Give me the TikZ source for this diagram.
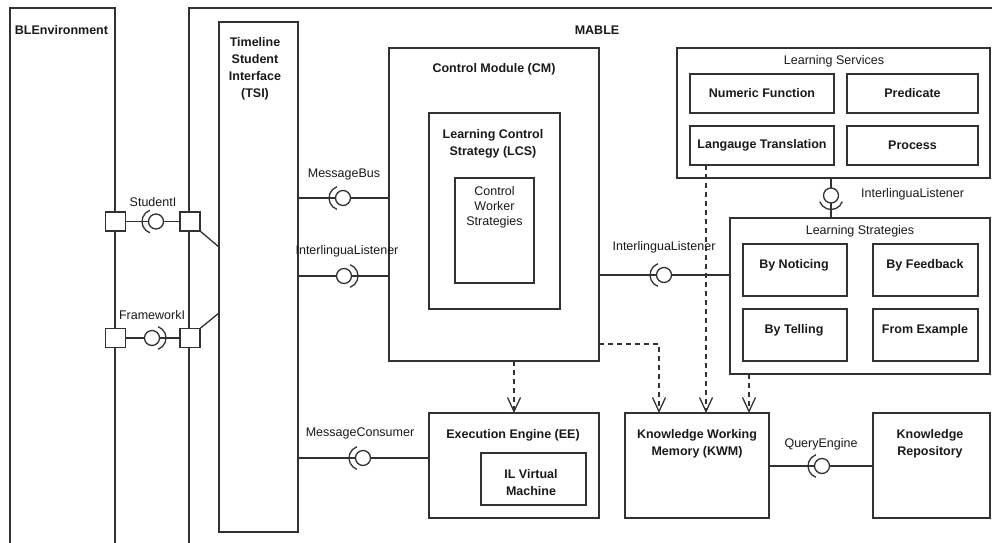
\documentclass[tikz,border=0pt]{standalone}
\usepackage{fontspec}
\setmainfont{Liberation Sans}
\usetikzlibrary{arrows.meta}
\definecolor{lc}{RGB}{50,50,50}
\definecolor{tc}{RGB}{25,25,25}
\begin{document}
\begin{tikzpicture}[x=1pt,y=-1pt,
  box/.style={rectangle,draw=lc,line width=1.3pt,inner sep=0pt,outer sep=0pt},
  port/.style={box,fill=white,minimum width=20pt,minimum height=19pt},
  ball/.style={circle,draw=lc,line width=1.3pt,fill=white,minimum size=15pt,inner sep=0pt,outer sep=0pt},
  conn/.style={draw=lc,line width=1.3pt},
  sock/.style={draw=lc,line width=1.3pt},
  dep/.style={draw=lc,line width=1.3pt,dash pattern=on 5pt off 4pt,-{Straight Barb[length=14pt,width=13pt]}},
  ttl/.style={font=\fontsize{12.5}{17}\selectfont\bfseries,text=tc,align=center,inner sep=0pt},
  lbl/.style={font=\fontsize{12.5}{15}\selectfont,text=tc,align=center,inner sep=0pt}]
\useasboundingbox (0,0) rectangle (992,542);
\clip (0,0) rectangle (992,542);

% outer containers
\node[box,minimum width=105pt,minimum height=572pt] (ble) at (62.5,294) {};
\node[ttl] (bleT) at (61.5,30) {BLEnvironment};
\node[box,minimum width=821pt,minimum height=572pt] (mable) at (599.5,294) {};
\node[ttl] (mableT) at (597,30) {MABLE};

% TSI
\node[box,minimum width=79pt,minimum height=510pt] (tsi) at (258.5,277) {};
\node[ttl] (tsiT) at (255,68.5) {Timeline\\Student\\Interface\\(TSI)};

% Control module
\node[box,minimum width=210pt,minimum height=313pt] (cm) at (494,204.5) {};
\node[ttl] (cmT) at (494,69) {Control Module (CM)};
\node[box,minimum width=131pt,minimum height=196pt] (lcs) at (494.5,211) {};
\node[ttl] (lcsT) at (493,143.5) {Learning Control\\Strategy (LCS)};
\node[box,minimum width=79pt,minimum height=105pt] (cws) at (494.5,230.5) {};
\node[lbl] (cwsT) at (494.5,207.5) {Control\\Worker\\Strategies};

% Learning services
\node[box,minimum width=313pt,minimum height=130pt] (lserv) at (833.5,113) {};
\node[lbl] (lservT) at (834,61) {Learning Services};
\node[box,minimum width=144pt,minimum height=39pt] (nf) at (762,93.5) {};
\node[ttl] (nfT) at (nf) {Numeric Function};
\node[box,minimum width=131pt,minimum height=39pt] (pred) at (912.5,93.5) {};
\node[ttl] (predT) at (pred) {Predicate};
\node[box,minimum width=144pt,minimum height=39pt] (lt) at (762,145.5) {};
\node[ttl] (ltT) at (lt) {Langauge Translation};
\node[box,minimum width=131pt,minimum height=39pt] (proc) at (912.5,145.5) {};
\node[ttl] (procT) at (proc) {Process};

% Learning strategies
\node[box,minimum width=260pt,minimum height=156pt] (lstrat) at (860,296) {};
\node[lbl] (lstratT) at (860,231) {Learning Strategies};
\node[box,minimum width=104pt,minimum height=52pt] (bn) at (795,270) {};
\node[ttl] (bnT) at (794,265) {By Noticing};
\node[box,minimum width=105pt,minimum height=52pt] (bf) at (925.5,270) {};
\node[ttl] (bfT) at (925,265) {By Feedback};
\node[box,minimum width=104pt,minimum height=52pt] (bt) at (795,335) {};
\node[ttl] (btT) at (794,330) {By Telling};
\node[box,minimum width=105pt,minimum height=52pt] (fe) at (925.5,335) {};
\node[ttl] (feT) at (925,330) {From Example};

% Execution engine
\node[box,minimum width=170pt,minimum height=105pt] (ee) at (514,465.5) {};
\node[ttl] (eeT) at (513,435) {Execution Engine (EE)};
\node[box,minimum width=105pt,minimum height=52pt] (ilvm) at (533.5,479) {};
\node[ttl] (ilvmT) at (531,482.5) {IL Virtual\\Machine};

% KWM and KR
\node[box,minimum width=144pt,minimum height=105pt] (kwm) at (697,465.5) {};
\node[ttl] (kwmT) at (697,443.5) {Knowledge Working\\Memory (KWM)};
\node[box,minimum width=117pt,minimum height=105pt] (kr) at (931.5,465.5) {};
\node[ttl] (krT) at (930,443.5) {Knowledge\\Repository};

% ports
\node[port] (sp1) at (115.5,221.5) {};
\node[port] (sp2) at (190,221.5) {};
\node[port] (fp1) at (115.5,338) {};
\node[port] (fp2) at (190,338) {};

% --- StudentI
\node[ball] (bSI) at (156,221.5) {};
\draw[conn] (sp1.east) -- (bSI);
\draw[conn] (bSI) -- (sp2.west);
\draw[sock] (bSI.center) ++(-2,0) ++(110:12) arc[start angle=110,end angle=250,radius=12];
\node[lbl] (lSI) at (153,202) {StudentI};
\coordinate (tsiS) at (219,247);
\draw[conn] (sp2.south east) -- (tsiS);

% --- FrameworkI
\node[ball] (bFI) at (152,338) {};
\draw[conn] (fp1.east) -- (bFI);
\draw[conn] (bFI) -- (fp2.west);
\draw[sock] (bFI.center) ++(2,0) ++(-70:12) arc[start angle=-70,end angle=70,radius=12];
\node[lbl] (lFI) at (152,315) {FrameworkI};
\coordinate (tsiF) at (219,313);
\draw[conn] (fp2.north east) -- (tsiF);

% --- MessageBus
\node[ball] (bMB) at (343,198) {};
\draw[conn] (tsi.east |- bMB) -- (bMB);
\draw[conn] (bMB) -- (cm.west |- bMB);
\draw[sock] (bMB.center) ++(-2,0) ++(110:12) arc[start angle=110,end angle=250,radius=12];
\node[lbl] (lMB) at (344,174) {MessageBus};

% --- InterlinguaListener (TSI - CM)
\node[ball] (bIL1) at (344,276) {};
\draw[conn] (tsi.east |- bIL1) -- (bIL1);
\draw[conn] (bIL1) -- (cm.west |- bIL1);
\draw[sock] (bIL1.center) ++(2,0) ++(-70:12) arc[start angle=-70,end angle=70,radius=12];
\node[lbl] (lIL1) at (347,251) {InterlinguaListener};

% --- MessageConsumer
\node[ball] (bMC) at (363,458) {};
\draw[conn] (tsi.east |- bMC) -- (bMC);
\draw[conn] (bMC) -- (ee.west |- bMC);
\draw[sock] (bMC.center) ++(-2,0) ++(110:12) arc[start angle=110,end angle=250,radius=12];
\node[lbl] (lMC) at (360,433) {MessageConsumer};

% --- InterlinguaListener (CM - Learning Strategies)
\node[ball] (bIL2) at (664,275) {};
\draw[conn] (cm.east |- bIL2) -- (bIL2);
\draw[conn] (bIL2) -- (lstrat.west |- bIL2);
\draw[sock] (bIL2.center) ++(-2,0) ++(110:12) arc[start angle=110,end angle=250,radius=12];
\node[lbl] (lIL2) at (664,247) {InterlinguaListener};

% --- InterlinguaListener (Services - Strategies)
\node[ball] (bIL3) at (831,195.5) {};
\draw[conn] (lserv.south -| bIL3) -- (bIL3);
\draw[conn] (bIL3) -- (lstrat.north -| bIL3);
\draw[sock] (bIL3.center) ++(0,2) ++(20:12) arc[start angle=20,end angle=160,radius=12];
\node[lbl,anchor=west] (lIL3) at (861,194) {InterlinguaListener};

% --- QueryEngine
\node[ball] (bQE) at (822,466) {};
\draw[conn] (kwm.east |- bQE) -- (bQE);
\draw[conn] (bQE) -- (kr.west |- bQE);
\draw[sock] (bQE.center) ++(-2,0) ++(110:12) arc[start angle=110,end angle=250,radius=12];
\node[lbl] (lQE) at (821,444) {QueryEngine};

% --- dependencies
\coordinate (cmE) at (599,344);
\coordinate (kwmA) at (659,413);
\coordinate (kwmB) at (706,413);
\coordinate (kwmC) at (749,413);
\draw[dep] (ee.north |- cm.south) -- (ee.north);
\draw[dep] (cmE) -| (kwmA);
\draw[dep] (lt.south -| kwmB) -- (kwmB);
\draw[dep] (lstrat.south -| kwmC) -- (kwmC);
\end{tikzpicture}
\end{document}
